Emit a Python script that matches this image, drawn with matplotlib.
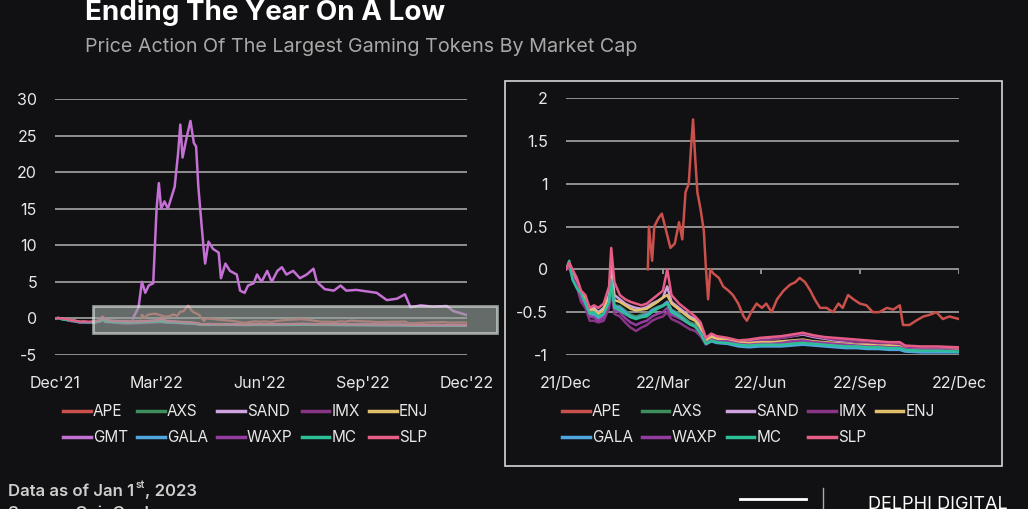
import numpy as np
import matplotlib
matplotlib.use("Agg")
import matplotlib.pyplot as plt
from matplotlib.patches import Rectangle

plt.rcParams['font.family'] = ['Inter', 'DejaVu Sans']

BG = '#111113'
GRID = '#9a9a9a'
TXT = '#e8e8e8'

start = np.datetime64('2021-12-31')

# ---- data (day offsets from 31 Dec 2021, price change as fraction) ----
gmt_days = [69, 74, 77, 80, 83, 87, 90, 92, 94, 97, 100, 103, 106, 109, 111, 113, 117, 120, 123, 125,
            127, 130, 132, 133, 136, 140, 145, 147, 151, 155, 161, 164, 168, 171, 176, 179, 183, 188,
            192, 197, 201, 205, 211, 217, 223, 229, 232, 239, 247, 253, 258, 267, 276, 285, 294, 303,
            310, 315, 324, 335, 347, 353, 364]
gmt_vals = [0.0, 1.5, 5.0, 3.5, 4.5, 4.8, 15.0, 18.5, 15.0, 16.0, 15.0, 16.5, 18.0, 22.5, 26.5, 22.0,
            25.0, 27.0, 24.0, 23.5, 18.0, 12.5, 9.0, 7.5, 10.5, 9.5, 9.0, 5.5, 7.5, 6.5, 6.0, 3.8, 3.5,
            4.5, 4.8, 6.0, 5.0, 6.5, 5.0, 6.5, 7.0, 6.0, 6.5, 5.5, 6.0, 6.8, 5.0, 4.0, 3.8, 4.5, 3.8,
            3.9, 3.7, 3.5, 2.5, 2.7, 3.3, 1.5, 1.8, 1.6, 1.7, 1.0, 0.5]

ape_days = [76, 77, 80, 82, 86, 89, 92, 97, 101, 105, 108, 111, 114, 116, 118, 120, 122, 125, 128,
            130, 132, 134, 137, 142, 146, 151, 155, 160, 165, 168, 172, 177, 182, 186, 191, 196, 202,
            208, 213, 217, 222, 227, 231, 236, 242, 248, 253, 257, 262, 267, 273, 279, 285, 291, 298,
            304, 310, 313, 319, 325, 332, 338, 344, 350, 356, 365]
ape_vals = [0.0, 0.5, 0.1, 0.5, 0.6, 0.65, 0.5, 0.25, 0.3, 0.55, 0.35, 0.9, 1.0, 1.4, 1.75, 1.3, 0.9,
            0.7, 0.45, 0.0, -0.35, 0.0, -0.05, -0.1, -0.2, -0.25, -0.3, -0.4, -0.55, -0.6, -0.5, -0.4,
            -0.45, -0.4, -0.5, -0.35, -0.25, -0.18, -0.15, -0.1, -0.15, -0.25, -0.35, -0.45, -0.45,
            -0.5, -0.4, -0.45, -0.3, -0.35, -0.4, -0.42, -0.5, -0.5, -0.45, -0.47, -0.42, -0.65, -0.65,
            -0.6, -0.55, -0.53, -0.5, -0.58, -0.55, -0.58]

days = [0, 3, 6, 10, 14, 18, 22, 26, 30, 35, 40, 42, 45, 50, 55, 60, 65, 70, 75, 80, 85, 90, 94, 98,
        105, 110, 115, 120, 125, 130, 135, 140, 150, 160, 170, 180, 190, 200, 210, 220, 230, 240, 250,
        260, 270, 280, 290, 300, 310, 315, 330, 345, 365]

axs = [0, 0.06, -0.06, -0.16, -0.32, -0.37, -0.5, -0.52, -0.56, -0.52, -0.37, -0.12, -0.42, -0.43,
       -0.48, -0.53, -0.55, -0.53, -0.52, -0.47, -0.44, -0.42, -0.38, -0.47, -0.52, -0.57, -0.62, -0.64,
       -0.72, -0.86, -0.82, -0.84, -0.85, -0.88, -0.89, -0.88, -0.88, -0.87, -0.86, -0.85, -0.86, -0.87,
       -0.88, -0.89, -0.9, -0.9, -0.91, -0.91, -0.92, -0.94, -0.95, -0.95, -0.96]
sand = [0, 0.05, -0.02, -0.12, -0.28, -0.32, -0.48, -0.45, -0.5, -0.45, -0.3, 0.05, -0.3, -0.35, -0.4,
        -0.43, -0.45, -0.46, -0.44, -0.4, -0.37, -0.33, -0.2, -0.38, -0.45, -0.5, -0.55, -0.58, -0.66,
        -0.82, -0.77, -0.8, -0.81, -0.84, -0.84, -0.82, -0.81, -0.8, -0.78, -0.76, -0.79, -0.81, -0.83,
        -0.84, -0.85, -0.86, -0.87, -0.87, -0.88, -0.91, -0.92, -0.92, -0.93]
imx = [0, 0.02, -0.1, -0.2, -0.38, -0.45, -0.6, -0.6, -0.62, -0.6, -0.45, -0.25, -0.52, -0.55, -0.62,
       -0.68, -0.72, -0.68, -0.65, -0.6, -0.57, -0.55, -0.5, -0.58, -0.62, -0.66, -0.7, -0.72, -0.78,
       -0.88, -0.84, -0.85, -0.85, -0.86, -0.85, -0.83, -0.82, -0.8, -0.78, -0.75, -0.78, -0.8, -0.82,
       -0.83, -0.85, -0.86, -0.87, -0.87, -0.88, -0.91, -0.92, -0.92, -0.93]
enj = [0, 0.04, -0.04, -0.14, -0.27, -0.33, -0.47, -0.47, -0.52, -0.47, -0.32, -0.08, -0.36, -0.38,
       -0.42, -0.46, -0.48, -0.47, -0.46, -0.42, -0.38, -0.33, -0.3, -0.4, -0.47, -0.52, -0.57, -0.6,
       -0.68, -0.84, -0.79, -0.81, -0.82, -0.85, -0.86, -0.85, -0.85, -0.84, -0.83, -0.82, -0.84, -0.85,
       -0.86, -0.87, -0.88, -0.88, -0.89, -0.89, -0.9, -0.93, -0.94, -0.94, -0.94]
gala = [0, 0.07, -0.08, -0.2, -0.33, -0.38, -0.53, -0.53, -0.57, -0.53, -0.38, -0.12, -0.43, -0.45,
        -0.5, -0.55, -0.57, -0.55, -0.53, -0.48, -0.45, -0.42, -0.38, -0.48, -0.54, -0.59, -0.64, -0.66,
        -0.74, -0.87, -0.84, -0.86, -0.87, -0.9, -0.91, -0.9, -0.9, -0.9, -0.89, -0.88, -0.89, -0.9,
        -0.91, -0.92, -0.92, -0.93, -0.93, -0.94, -0.94, -0.96, -0.97, -0.97, -0.97]
waxp = [0, 0.03, -0.08, -0.18, -0.35, -0.4, -0.55, -0.56, -0.6, -0.56, -0.42, -0.2, -0.48, -0.5, -0.57,
        -0.62, -0.65, -0.62, -0.6, -0.55, -0.52, -0.5, -0.45, -0.53, -0.57, -0.6, -0.64, -0.67, -0.74,
        -0.86, -0.82, -0.84, -0.84, -0.87, -0.88, -0.87, -0.87, -0.86, -0.84, -0.83, -0.85, -0.86, -0.87,
        -0.88, -0.89, -0.9, -0.9, -0.91, -0.91, -0.93, -0.94, -0.94, -0.95]
mc = [0, 0.1, -0.12, -0.22, -0.28, -0.4, -0.52, -0.5, -0.55, -0.52, -0.38, -0.15, -0.45, -0.48, -0.52,
      -0.56, -0.58, -0.56, -0.55, -0.5, -0.46, -0.43, -0.4, -0.5, -0.55, -0.6, -0.64, -0.67, -0.75, -0.87,
      -0.83, -0.85, -0.86, -0.88, -0.89, -0.88, -0.88, -0.88, -0.87, -0.86, -0.87, -0.88, -0.89, -0.9,
      -0.9, -0.91, -0.91, -0.92, -0.92, -0.94, -0.95, -0.95, -0.96]
slp = [0, 0.08, 0.0, -0.1, -0.25, -0.3, -0.45, -0.42, -0.45, -0.4, -0.2, 0.25, -0.15, -0.3, -0.35, -0.38,
       -0.4, -0.42, -0.4, -0.35, -0.3, -0.25, 0.0, -0.3, -0.4, -0.45, -0.5, -0.55, -0.62, -0.8, -0.75,
       -0.78, -0.8, -0.83, -0.82, -0.8, -0.79, -0.78, -0.76, -0.74, -0.77, -0.79, -0.8, -0.81, -0.82,
       -0.83, -0.84, -0.85, -0.85, -0.89, -0.9, -0.9, -0.91]

colors = {'APE': '#c9504b', 'AXS': '#3f8f5e', 'SAND': '#cfa3e0', 'IMX': '#8a3486', 'ENJ': '#e3c06e',
          'GMT': '#c470d4', 'GALA': '#4fa6df', 'WAXP': '#943da0', 'MC': '#2cbf98', 'SLP': '#e65d86'}
cluster = [('AXS', axs), ('SAND', sand), ('IMX', imx), ('ENJ', enj), ('GALA', gala),
           ('WAXP', waxp), ('MC', mc), ('SLP', slp)]

tick_days = [0, 90, 181, 273, 365]
left_labels = ["Dec'21", "Mar'22", "Jun'22", "Sep'22", "Dec'22"]
right_labels = ["21/Dec", "22/Mar", "22/Jun", "22/Sep", "22/Dec"]


def to_dates(d):
    return start + np.array(d).astype('timedelta64[D]')


def style(ax, yticks, ylim, labels):
    ax.set_facecolor(BG)
    for s in ax.spines.values():
        s.set_visible(False)
    ax.set_yticks(yticks)
    ax.set_yticklabels([('%g' % v) for v in yticks])
    ax.set_ylim(*ylim)
    ax.set_xticks(to_dates(tick_days))
    ax.set_xticklabels(labels)
    ax.set_xlim(to_dates([0])[0], to_dates([365])[0])
    ax.yaxis.grid(True, color=GRID, lw=1.3)
    ax.set_axisbelow(True)
    ax.tick_params(length=0, colors=TXT, labelsize=11.5, pad=13)
    ax.tick_params(axis='x', pad=15)


def legend(handles, names, x):
    lg = fig.legend(handles, names, loc='upper left', bbox_to_anchor=(x / 1028, 1 - 404 / 509),
                    ncol=5, frameon=False, fontsize=11, labelcolor=TXT, handlelength=1.8,
                    handletextpad=0.15, columnspacing=0.6, labelspacing=0.75, borderpad=0,
                    borderaxespad=0)
    for ln in lg.get_lines():
        ln.set_linewidth(2.5)
    return lg


fig = plt.figure(figsize=(10.28, 5.09), dpi=100, facecolor=BG)

# ---- left: full range ----
ax1 = fig.add_axes([55 / 1028, 1 - 355 / 509, 412 / 1028, 256 / 509])
style(ax1, [-5, 0, 5, 10, 15, 20, 25, 30], (-5, 30), left_labels)
h = {}
for name, vals in cluster:
    h[name], = ax1.plot(to_dates(days), vals, color=colors[name], lw=1.6)
h['APE'], = ax1.plot(to_dates(ape_days), ape_vals, color=colors['APE'], lw=1.6)
h['GMT'], = ax1.plot(to_dates(gmt_days), gmt_vals, color=colors['GMT'], lw=1.8)

zoom_box = Rectangle((to_dates([34])[0], -2.0), np.timedelta64(358, 'D'), 3.7,
                     facecolor='#9aa39d', alpha=0.62, edgecolor='#e4eee8', lw=2, zorder=5, clip_on=False)
ax1.add_patch(zoom_box)

order = ['APE', 'GMT', 'AXS', 'GALA', 'SAND', 'WAXP', 'IMX', 'MC', 'ENJ', 'SLP']
legend([h[k] for k in order], order, 63)

# ---- right: zoomed panel ----
ax2 = fig.add_axes([566 / 1028, 1 - 355 / 509, 393 / 1028, 257 / 509])
style(ax2, [-1, -0.5, 0, 0.5, 1, 1.5, 2], (-1, 2), right_labels)
ax2.vlines(to_dates(tick_days[1:]), -0.05, 0.0, color=GRID, lw=1.3)
h2 = {}
for name, vals in cluster:
    h2[name], = ax2.plot(to_dates(days), vals, color=colors[name], lw=1.8)
h2['APE'], = ax2.plot(to_dates(ape_days), ape_vals, color=colors['APE'], lw=1.8)

order2 = ['APE', 'GALA', 'AXS', 'WAXP', 'SAND', 'MC', 'IMX', 'SLP', 'ENJ']
legend([h2[k] for k in order2], order2, 562)

# inset frame
fig.add_artist(Rectangle((505 / 1028, 1 - 466 / 509), 497 / 1028, 385 / 509, transform=fig.transFigure,
                         fill=False, edgecolor='#d6d6d6', lw=1.2))

# ---- titles and footer ----
fig.text(85 / 1028, 1 - 20 / 509, "Ending The Year On A Low", color='white', fontsize=20,
         fontweight='bold', va='baseline')
fig.text(85 / 1028, 1 - 52 / 509, "Price Action Of The Largest Gaming Tokens By Market Cap",
         color='#a8a8a8', fontsize=14.2, va='baseline')

fig.canvas.draw()
r = fig.canvas.get_renderer()
t1 = fig.text(8 / 1028, 1 - 496 / 509, "Data as of Jan 1", color='#cfcfcf', fontsize=12,
              fontweight='semibold', va='baseline')
bb = t1.get_window_extent(r)
t2 = fig.text(bb.x1 / 1028 + 0.001, 1 - 488 / 509, "st", color='#cfcfcf', fontsize=7.5,
              fontweight='semibold', va='baseline')
bb2 = t2.get_window_extent(r)
fig.text(bb2.x1 / 1028, 1 - 496 / 509, ", 2023", color='#cfcfcf', fontsize=12,
         fontweight='semibold', va='baseline')
fig.text(8 / 1028, 1 - 518 / 509, "Source: CoinGecko", color='#cfcfcf', fontsize=12,
         fontweight='semibold', va='baseline')

# logos
fig.add_artist(plt.Line2D([740 / 1028, 806 / 1028], [1 - 499 / 509, 1 - 499 / 509], color='white', lw=2))
fig.add_artist(plt.Line2D([823 / 1028, 823 / 1028], [0, 1 - 488 / 509], color='#aaaaaa', lw=1))
fig.text(868 / 1028, 1 - 509 / 509, "DELPHI DIGITAL", color='white', fontsize=13, va='baseline')

fig.savefig('out.png', dpi=100, facecolor=BG)
